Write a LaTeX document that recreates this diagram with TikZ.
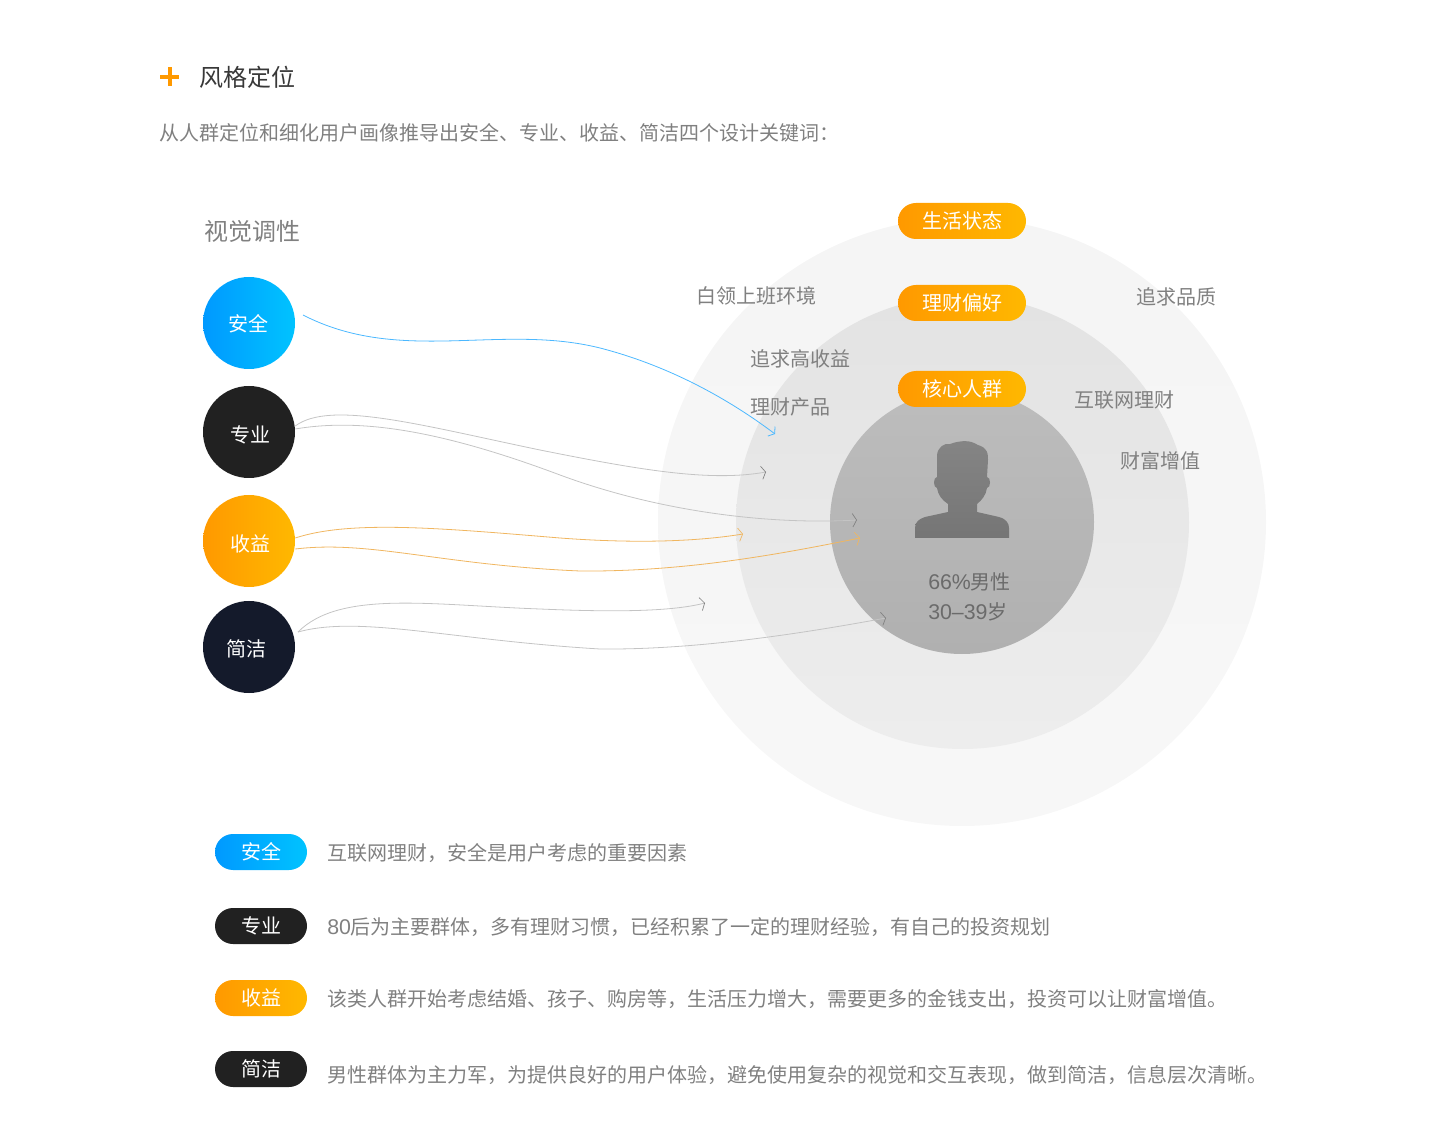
\documentclass[tikz,border=0pt]{standalone}
\usepackage{fontspec}
\setmainfont{Noto Sans CJK SC}
\newfontfamily\latinfont{Liberation Sans}
\usetikzlibrary{arrows.meta}
\newcommand{\fc}{\symbol{"FF0C}}
\newcommand{\fcolon}{\symbol{"FF1A}}
\newcommand{\digits}[1]{{\latinfont\fontsize{16}{18}\selectfont #1}}
\definecolor{txtgray}{HTML}{808080}
\definecolor{orangeA}{HTML}{FF9900}
\definecolor{orangeB}{HTML}{FFB800}
\definecolor{blueA}{HTML}{0099FF}
\definecolor{blueB}{HTML}{00C3FF}
\definecolor{linegray}{HTML}{C4C4C4}
\definecolor{lineorange}{HTML}{F0B660}
\begin{document}
\begin{tikzpicture}[x=0.75pt, y=-0.75pt,
	txt/.style = {inner sep=0, anchor=west, text=txtgray, font=\fontsize{15}{18}\selectfont},
	ball/.style = {circle, minimum size=69pt, inner sep=0},
	balltext/.style = {inner sep=0, text=white, font=\fontsize{15}{18}\selectfont},
	pill/.style = {rounded corners=13.5pt, minimum height=27pt, inner sep=0, text=white, font=\fontsize{15}{18}\selectfont},
	tag/.style = {pill, minimum width=96pt, left color=orangeA, right color=orangeB},
	key/.style = {pill, minimum width=69pt},
	blueface/.style = {left color=blueA, right color=blueB},
	orangeface/.style = {left color=orangeA, right color=orangeB},
	link/.style = {line width=0.6pt, linegray, -{Straight Barb[length=3pt, width=10pt, line width=0.5pt, color=black!50]}}]
	\useasboundingbox (0,0) rectangle (1440,1130);
	% header
	\fill[orangeA] (160,75) rectangle (179,79);
	\fill[orangeA] (167.5,67.5) rectangle (171.5,86.5);
	\node[txt, text=black!78, font=\fontsize{18}{22}\selectfont] (title) at (199,77) {风格定位};
	\node[txt] (intro) at (159,133) {从人群定位和细化用户画像推导出安全、专业、收益、简洁四个设计关键词\fcolon};
	\node[txt, font=\fontsize{18}{22}\selectfont] (tone) at (204,231) {视觉调性};
	% rings
	\shade[top color=black!4, bottom color=black!3] (962,522) circle (304);
	\shade[top color=black!11, bottom color=black!7] (962.5,522.5) circle (226.5);
	\shade[top color=black!26, bottom color=black!31] (962,522) circle (132);
	% person
	\shade[top color=black!48, bottom color=black!54]
		(915,538) -- (915,528) .. controls (915,522) and (919,519) .. (925,517)
		-- (948,512) -- (948,504) .. controls (942,500) and (938,495) .. (937,488)
		.. controls (933,488) and (933,477) .. (937,477) -- (937,455)
		.. controls (938,447) and (944,443) .. (950,444) .. controls (958,441) and (968,440) .. (974,443)
		.. controls (979,446) and (983,446) .. (985,449) .. controls (988,452) and (988,456) .. (988,460) -- (987,477)
		.. controls (991,477) and (991,488) .. (987,488) .. controls (986,495) and (982,500) .. (977,504)
		-- (977,512) -- (999,517) .. controls (1006,519) and (1009,523) .. (1009,528) -- (1009,538) -- cycle;
	\node[txt, text=black!58] (share) at (928,582) {\digits{66\%}男性};
	\node[txt, text=black!58] (age) at (928,612) {\digits{30–39}岁};
	% tags
	\node[tag] (life) at (962,221) {生活状态};
	\node[tag] (pref) at (962,303) {理财偏好};
	\node[tag] (core) at (962,389) {核心人群};
	\node[txt] (white) at (696,296) {白领上班环境};
	\node[txt] (quality) at (1136,297) {追求品质};
	\node[txt] (income) at (750,359) {追求高收益};
	\node[txt] (product) at (750,407) {理财产品};
	\node[txt] (web) at (1074,400) {互联网理财};
	\node[txt] (wealth) at (1120,461) {财富增值};
	% balls
	\node[ball, blueface] (safe) at (249,323) {};
	\node[ball, fill=black!87] (pro) at (249,432) {};
	\node[ball, orangeface] (gain) at (249,541) {};
	\node[ball, fill={rgb,255:red,20;green,26;blue,43}] (easy) at (249,647) {};
	\node[balltext] (safeT) at (248,324) {安全};
	\node[balltext] (proT) at (250,435) {专业};
	\node[balltext] (gainT) at (250,544) {收益};
	\node[balltext] (easyT) at (246,649) {简洁};
	% free ends
	\coordinate (safeS) at (303,315);
	\coordinate (easyS) at (298,632);
	\coordinate (safeE) at (775,434);
	\coordinate (proE1) at (766,472);
	\coordinate (proE2) at (857,520);
	\coordinate (gainE1) at (743,534);
	\coordinate (gainE2) at (860,538);
	\coordinate (easyE1) at (705,603);
	\coordinate (easyE2) at (886,618);
	% links
	\draw[link, color=blueA!70, -{Straight Barb[length=3pt, width=9pt, line width=0.6pt]}] (safeS) .. controls (400,365) and (500,323) .. (600,348) .. controls (670,366) and (730,400) .. (safeE);
	\draw[link] (pro.east) ++(0,-6) .. controls (330,400) and (420,425) .. (540,450) .. controls (640,470) and (710,482) .. (proE1);
	\draw[link] (pro.east) ++(0,-3) .. controls (360,418) and (440,430) .. (560,475) .. controls (660,512) and (770,525) .. (proE2);
	\draw[link, color=lineorange, -{Straight Barb[length=3pt, width=10pt, line width=0.5pt]}] (gain.east) ++(0,-3) .. controls (350,520) and (440,528) .. (560,538) .. controls (640,544) and (700,541) .. (gainE1);
	\draw[link, color=lineorange, -{Straight Barb[length=3pt, width=10pt, line width=0.5pt]}] (gain.east) ++(0,8) .. controls (370,540) and (440,565) .. (580,571) .. controls (690,572) and (790,552) .. (gainE2);
	\draw[link] (easyS) .. controls (340,590) and (430,605) .. (540,609) .. controls (610,612) and (670,612) .. (easyE1);
	\draw[link] (easyS) .. controls (360,615) and (450,640) .. (600,649) .. controls (700,650) and (810,632) .. (easyE2);
	% legend
	\node[key, blueface] (keyA) at (261,852) {安全};
	\node[key, fill=black!87] (keyB) at (261,926) {专业};
	\node[key, orangeface] (keyC) at (261,998) {收益};
	\node[key, fill=black!87] (keyD) at (261,1069) {简洁};
	\node[txt] (descA) at (327,853) {互联网理财\fc 安全是用户考虑的重要因素};
	\node[txt] (descB) at (327,927) {\digits{80}后为主要群体\fc 多有理财习惯\fc 已经积累了一定的理财经验\fc 有自己的投资规划};
	\node[txt] (descC) at (327,999) {该类人群开始考虑结婚、孩子、购房等\fc 生活压力增大\fc 需要更多的金钱支出\fc 投资可以让财富增值。};
	\node[txt] (descD) at (327,1075) {男性群体为主力军\fc 为提供良好的用户体验\fc 避免使用复杂的视觉和交互表现\fc 做到简洁\fc 信息层次清晰。};
\end{tikzpicture}
\end{document}
